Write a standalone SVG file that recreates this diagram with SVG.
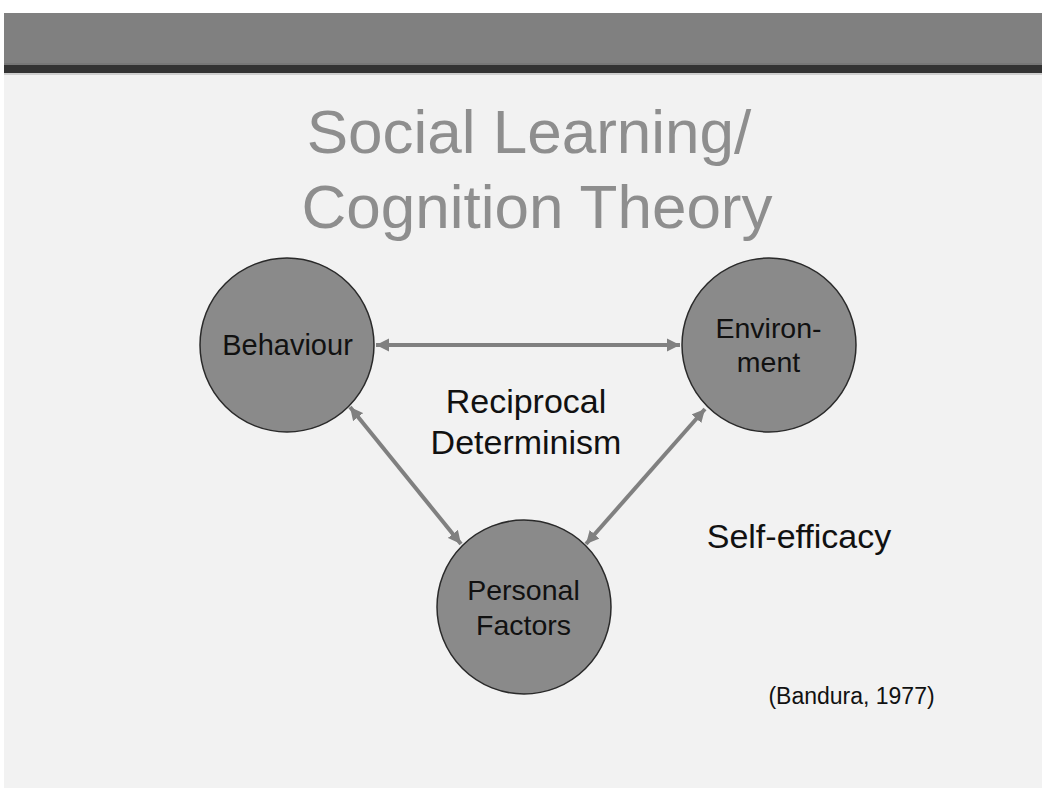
<svg xmlns="http://www.w3.org/2000/svg" width="1042" height="790" viewBox="0 0 1042 790">
  <style>
    .node { fill: #8a8a8a; stroke: #2a2a2a; stroke-width: 1.5; }
    .label { font-family: "Liberation Sans", Arial, sans-serif; fill: #111; text-anchor: middle; }
    .title { font-family: "Liberation Sans", Arial, sans-serif; fill: #8e8e8e; font-size: 62px; text-anchor: middle; }
    .link { stroke: #808080; stroke-width: 4; fill: none; marker-start: url(#head); marker-end: url(#head); }
  </style>
  <defs>
    <marker id="head" markerUnits="userSpaceOnUse" markerWidth="14" markerHeight="14" viewBox="0 0 14 14" refX="13" refY="7" orient="auto-start-reverse">
      <path d="M0,0.5 L13,7 L0,13.5 Z" fill="#808080"/>
    </marker>
  </defs>

  <!-- page -->
  <rect x="0" y="0" width="1042" height="790" fill="#ffffff"/>
  <rect x="4" y="13" width="1038" height="775" fill="#f2f2f2"/>
  <!-- header bar -->
  <rect x="4" y="13" width="1038" height="52" fill="#808080"/>
  <rect x="4" y="63" width="1038" height="2" fill="#777"/>
  <rect x="4" y="65" width="1038" height="8" fill="#333333"/>
  <rect x="4" y="73" width="1038" height="2" fill="#cfcfcf"/>

  <!-- title -->
  <text class="title" x="529" y="153">Social Learning/</text>
  <text class="title" x="537" y="228">Cognition Theory</text>

  <!-- connectors -->
  <g id="connectors">
    <line class="link" x1="376" y1="345" x2="680" y2="345"/>
    <line class="link" x1="350" y1="407" x2="461" y2="544"/>
    <line class="link" x1="705" y1="409" x2="586" y2="544"/>
  </g>

  <g id="behaviour">
    <circle class="node" cx="287" cy="345" r="87"/>
    <text class="label" x="287.5" y="355" font-size="29">Behaviour</text>
  </g>

  <g id="environment">
    <circle class="node" cx="769" cy="345" r="87"/>
    <text class="label" x="768.5" y="338" font-size="28.5">Environ-</text>
    <text class="label" x="768.5" y="372" font-size="28.5">ment</text>
  </g>

  <g id="personal-factors">
    <circle class="node" cx="524" cy="607" r="87"/>
    <text class="label" x="523.5" y="600" font-size="28.5">Personal</text>
    <text class="label" x="523.5" y="635" font-size="28.5">Factors</text>
  </g>

  <g id="reciprocal-determinism">
    <text class="label" x="526" y="413" font-size="34">Reciprocal</text>
    <text class="label" x="526" y="454" font-size="34">Determinism</text>
  </g>

  <g id="self-efficacy">
    <text class="label" x="799" y="548" font-size="34">Self-efficacy</text>
  </g>

  <g id="citation">
    <text class="label" x="851.5" y="704" font-size="23">(Bandura, 1977)</text>
  </g>
</svg>
